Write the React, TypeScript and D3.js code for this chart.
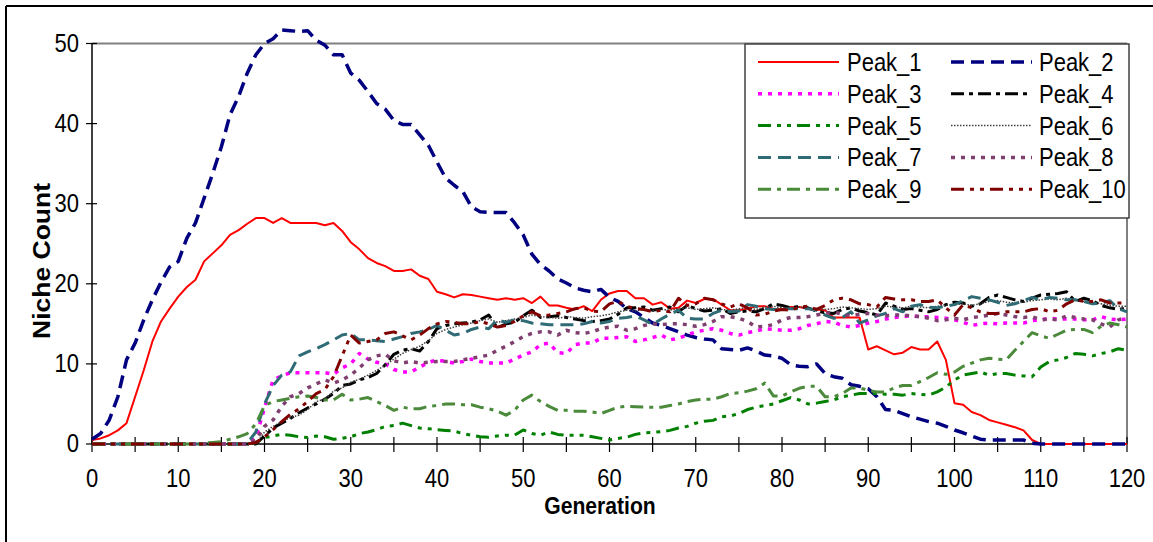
import React from "react";
import * as d3 from "d3";

// ---------------- DATA ----------------
const seriesNames = ["Peak_1","Peak_2","Peak_3","Peak_4","Peak_5","Peak_6","Peak_7","Peak_8","Peak_9","Peak_10"];

const peak1 = [0.5,0.7,1.1,1.7,2.6,5.9,9.2,12.8,15.3,16.9,
  18.4,19.6,20.5,22.8,23.8,24.8,26.1,26.7,27.5,28.2,
  28.2,27.6,28.2,27.6,27.6,27.6,27.6,27.3,27.6,26.6,
  25.2,24.3,23.2,22.6,22.2,21.6,21.6,21.8,21.0,20.6,
  19.0,18.7,18.3,18.7,18.6,18.4,18.2,18.0,18.2,18.0,
  18.2,17.6,18.4,17.3,17.3,17.0,16.8,17.2,16.6,18.0,
  18.8,19.1,19.1,18.2,18.2,17.4,17.7,16.9,17.0,17.9,
  17.6,18.1,18.1,17.4,16.7,16.7,16.9,17.2,17.2,16.9,
  16.8,17.1,17.1,16.9,16.8,16.7,15.8,15.8,15.8,15.8,
  11.8,12.2,11.7,11.2,11.4,12.1,11.8,11.8,12.8,10.5,
  5.1,4.9,4.0,3.6,3.0,2.7,2.4,2.1,1.7,0.5,
  0,0,0,0,0,0,0,0,0,0,0];

const peak2 = [0.6,1.3,3.0,5.9,10.5,12.6,15.5,18.0,20.2,22.1,
  22.8,25.7,27.6,30.7,33.8,37.1,41.1,43.4,46.3,48.6,
  50.0,50.6,51.7,51.6,51.5,51.6,50.4,49.8,48.6,48.6,
  46.3,45.4,44.0,42.5,41.8,40.4,39.9,39.9,38.6,37.3,
  35.2,33.2,32.3,31.5,29.6,29.0,28.9,28.9,28.9,27.6,
  26.1,23.7,22.4,21.6,20.6,20.1,19.5,19.2,19.0,19.3,
  18.3,17.8,16.9,16.5,15.8,15.1,14.8,14.4,14.0,13.6,
  13.3,13.1,13.0,11.9,11.8,11.7,12.0,11.6,11.1,11.0,
  10.7,9.9,9.7,9.65,10.0,8.8,8.4,8.2,7.4,7.2,
  6.9,5.9,4.3,4.2,3.8,3.4,3.1,2.8,2.6,2.2,
  1.75,1.4,1.0,0.6,0.5,0.5,0.5,0.5,0.5,0.1,
  0,0,0,0,0,0,0,0,0,0,0];

const peak3 = [0,0,0,0,0,0,0,0,0,0,
  0,0,0,0,0,0,0,0,0,0.8,
  4.5,8.0,8.5,8.9,8.9,8.9,8.9,8.9,8.7,9.5,
  10.0,11.3,10.6,10.2,10.0,9.3,9.0,9.0,9.6,10.2,
  10.5,10.3,10.1,10.3,10.6,10.3,10.1,10.1,10.1,10.6,
  11.1,11.5,12.4,12.6,11.4,11.3,12.4,12.6,12.6,13.2,
  13.2,13.3,13.4,12.8,13.0,13.3,13.6,13.0,13.2,13.6,
  14.0,14.2,14.4,14.2,13.8,13.6,13.9,14.1,14.4,14.3,
  14.2,14.2,14.4,14.8,15.0,15.3,15.2,14.8,14.6,14.8,
  15.1,15.3,15.6,15.8,15.9,16.0,15.9,15.9,15.8,15.7,
  15.5,15.2,14.8,15.0,15.1,15.0,15.1,15.1,15.1,15.4,
  15.5,15.7,15.6,15.6,15.6,15.5,15.5,15.9,15.6,15.5,15.6];

const peak4 = [0,0,0,0,0,0,0,0,0,0,
  0,0,0,0,0,0,0,0,0,0,
  1.0,2.0,2.6,3.2,3.9,4.5,5.0,5.6,6.3,7.3,
  7.5,8.0,8.3,8.8,9.9,11.2,11.7,11.9,11.6,12.8,
  14.4,14.8,15.0,15.1,15.2,15.5,16.1,14.5,15.0,15.2,
  16.0,16.7,15.8,15.9,16.0,15.8,15.6,15.4,15.3,15.4,
  15.6,16.2,17.0,17.0,17.1,16.7,16.9,17.1,16.5,17.3,
  16.9,16.6,16.7,16.9,16.3,16.5,16.6,16.5,16.9,17.5,
  17.3,17.0,17.2,17.0,16.6,16.4,16.3,16.8,17.0,16.6,
  16.4,16.1,17.6,17.2,16.8,16.9,16.7,16.5,16.8,17.4,
  17.7,17.6,17.2,17.5,18.3,18.6,18.3,18.0,17.8,18.2,
  18.6,18.7,18.8,19.0,17.8,18.2,17.9,17.3,17.0,16.8,17.0];

const peak5 = [0,0,0,0,0,0,0,0,0,0,
  0,0,0,0,0,0,0,0,0,0.2,
  0.8,1.0,1.2,1.1,0.9,0.8,1.0,0.9,0.6,0.7,
  0.9,1.3,1.5,1.8,2.2,2.3,2.6,2.3,2.0,1.9,
  1.8,1.7,1.6,1.3,1.1,0.9,0.85,1.0,1.1,1.1,
  1.75,1.3,1.1,1.5,1.2,1.1,1.1,1.1,0.9,0.7,
  0.5,0.7,0.85,1.2,1.4,1.45,1.55,1.7,2.0,2.2,
  2.6,2.85,2.95,3.4,3.5,3.8,4.3,4.6,4.8,5.0,
  5.4,5.8,5.5,5.0,5.1,5.3,5.5,5.9,6.1,6.3,
  6.3,6.3,6.2,6.2,6.1,6.3,6.2,6.1,6.5,7.1,
  8.0,8.6,8.8,9.0,8.6,8.8,8.8,8.6,8.5,8.4,
  9.6,10.3,10.5,10.8,11.3,11.2,11.0,11.3,11.5,11.9,11.7];

const peak6 = [0,0,0,0,0,0,0,0,0,0,
  0,0,0,0,0,0,0,0,0,0,
  1.5,2.2,2.8,3.3,3.6,4.3,5.3,5.6,6.6,7.0,
  7.7,8.1,8.6,9.2,9.8,10.6,11.3,11.8,12.2,12.9,
  13.8,14.3,14.6,14.9,15.1,15.4,15.6,15.2,15.4,15.6,
  15.8,16.1,15.9,15.8,15.7,15.9,15.8,15.7,15.9,16.0,
  16.2,16.5,16.7,16.6,16.8,16.6,16.8,16.7,16.9,17.0,
  16.8,16.9,17.0,16.8,16.7,16.9,17.0,16.8,17.1,17.2,
  17.0,16.9,17.1,17.0,16.9,16.8,16.9,17.1,17.0,16.9,
  16.8,16.9,17.2,17.1,17.0,17.2,17.1,17.0,17.2,17.3,
  17.4,17.5,17.3,17.5,17.8,17.9,17.7,17.6,17.7,17.9,
  18.0,18.1,18.0,18.2,17.9,17.8,17.7,17.5,17.3,17.2,17.2];

const peak7 = [0,0,0,0,0,0,0,0,0,0,
  0,0,0,0,0,0,0,0,0.1,1.5,
  5.0,7.3,8.6,9.0,11.0,11.5,11.9,12.4,13.0,13.6,
  13.8,13.0,13.0,12.9,12.8,13.1,13.4,13.8,14.0,14.3,
  14.8,14.2,13.6,13.8,14.3,14.6,14.4,15.5,15.2,15.5,
  15.4,15.1,15.0,14.9,14.9,14.9,14.9,15.0,15.3,15.1,
  15.3,15.7,15.8,16.0,15.5,14.9,15.6,16.2,16.7,15.7,
  15.6,15.6,16.3,16.7,16.5,16.6,17.4,17.2,16.9,16.8,
  16.8,16.9,16.9,16.9,16.7,16.1,15.7,15.8,16.5,15.1,
  15.5,16.0,16.3,16.9,16.5,17.2,17.4,17.1,17.0,17.2,
  17.4,17.9,18.4,18.2,18.0,17.7,17.3,17.5,17.9,18.3,
  18.0,18.3,18.2,18.0,18.0,17.8,17.5,17.6,17.9,16.9,16.5];

const peak8 = [0,0,0,0,0,0,0,0,0,0,
  0,0,0,0,0,0,0,0,0,0.5,
  2.2,3.0,4.7,5.9,6.3,7.0,7.5,8.0,7.6,8.0,
  8.6,9.5,10.5,11.0,11.2,10.4,10.1,10.3,10.1,10.2,
  10.3,10.3,10.3,10.5,10.7,10.9,11.1,11.7,12.2,12.8,
  13.4,13.8,14.0,14.0,13.6,14.2,13.9,13.8,14.0,14.4,
  14.6,14.7,14.2,14.4,14.8,15.0,14.9,15.0,15.0,14.9,
  14.7,14.9,15.3,15.9,15.9,15.7,15.3,14.6,14.7,14.9,
  15.5,15.8,15.8,15.9,16.1,16.3,16.5,16.2,16.0,16.2,
  16.3,16.1,16.0,16.1,16.1,16.0,15.9,15.7,15.4,15.5,
  15.7,15.5,15.8,15.9,16.1,16.3,16.1,15.9,15.8,15.9,
  15.5,15.6,15.5,16.0,15.8,15.6,15.5,15.0,14.6,15.5,15.8];

const peak9 = [0,0,0,0,0,0,0,0,0,0,
  0,0,0,0.1,0.2,0.3,0.6,0.9,1.3,2.5,
  4.8,5.3,5.5,5.7,5.9,6.0,5.8,5.5,5.5,6.2,
  5.5,5.6,5.8,5.3,4.8,4.2,4.6,4.4,4.4,4.7,
  4.8,5.0,5.0,4.9,4.9,4.6,4.4,4.1,3.6,4.2,
  5.5,6.1,5.3,4.7,4.2,4.2,4.1,4.1,4.0,3.8,
  4.2,4.6,4.7,4.66,4.6,4.6,4.6,4.8,5.0,5.3,
  5.5,5.6,5.6,5.9,6.3,6.4,6.6,6.9,7.6,6.0,
  6.0,6.5,6.95,7.2,7.2,5.9,5.9,6.3,7.0,7.0,
  6.7,6.5,6.5,7.0,7.3,7.3,7.8,8.3,8.9,8.7,
  9.0,9.7,10.1,10.5,10.7,10.6,10.5,11.7,12.8,13.9,
  13.5,13.2,13.7,14.2,14.3,14.3,13.9,14.7,15.1,14.9,14.6];

const peak10 = [0,0,0,0,0,0,0,0,0,0,
  0,0,0,0,0,0,0,0,0,0.2,
  0.9,1.8,2.8,3.7,4.4,5.3,6.3,6.8,8.4,11.0,
  13.6,12.6,12.8,13.0,13.8,14.0,13.5,13.0,13.6,14.4,
  15.0,15.3,15.2,15.0,15.0,15.3,15.0,14.6,14.8,15.3,
  16.0,16.5,16.0,16.1,16.3,16.5,16.9,17.0,16.6,16.5,
  17.5,17.8,17.2,16.9,16.8,16.5,16.7,16.5,18.2,17.3,
  17.5,18.2,18.0,17.5,17.1,17.5,17.0,16.1,16.2,16.6,
  16.8,16.7,17.1,17.2,16.8,17.3,18.0,18.2,18.0,17.5,
  17.4,17.1,18.3,18.1,18.0,18.0,17.8,17.8,18.0,17.0,
  16.1,17.4,17.0,16.5,16.3,16.3,16.5,16.5,16.5,16.8,
  16.9,16.5,16.7,17.5,18.0,17.8,17.8,18.0,17.6,17.6,17.6];

const seriesValues = [peak1, peak2, peak3, peak4, peak5, peak6, peak7, peak8, peak9, peak10];

const yTickValues = [0, 10, 20, 30, 40, 50];
const xTickLabelValues = [0, 10, 20, 30, 40, 50, 60, 70, 80, 90, 100, 110, 120];
const xTickMarkValues = [0,5,10,15,20,25,30,35,40,45,50,55,60,65,70,75,80,85,90,95,100,105,110,115,120];

// ---------------- STYLES ----------------
const seriesStyles = [
  { color: "#FF0000", width: 2, dash: "" },
  { color: "#000080", width: 3.5, dash: "13,7" },
  { color: "#FF00FF", width: 3.5, dash: "4,6" },
  { color: "#000000", width: 3, dash: "13,5,4,5" },
  { color: "#008000", width: 3, dash: "13,6,4,6,4,6" },
  { color: "#404040", width: 1.5, dash: "1.5,1.5" },
  { color: "#2E6B75", width: 3, dash: "13,7" },
  { color: "#7F3F6F", width: 3.5, dash: "4,6" },
  { color: "#4A8A3A", width: 3, dash: "13,6,4,6" },
  { color: "#800000", width: 3, dash: "13,6,4,6,4,6" },
];

const W = 1153;
const H = 542;
const FONT = "Arial, 'Liberation Sans', Helvetica, sans-serif";
const SX = 0.88;

const x = d3.scaleLinear().domain([0, 120]).range([92, 1127]);
const y = d3.scaleLinear().domain([0, 50]).range([444, 43.5]);

function Txt(props: { x: number; y: number; anchor?: string; size?: number; bold?: boolean; children: any }) {
  const { anchor = "start", size = 25, bold = false } = props;
  return (
    <text
      transform={`translate(${props.x},${props.y}) scale(${SX},1)`}
      textAnchor={anchor}
      fontFamily={FONT}
      fontSize={size}
      fontWeight={bold ? "bold" : "normal"}
      fill="#000"
    >
      {props.children}
    </text>
  );
}

export default function App() {
  const line = d3
    .line<number>()
    .x((_d, i) => x(i))
    .y((d) => y(d));

  const [x0, x1] = x.range();
  const [yb, yt] = y.range();

  // legend layout
  const legX = 745, legY = 44, legW = 384, legH = 174;
  const rowY0 = 62, rowStep = 31.8;
  const colLine = [[758, 839], [951, 1032]];
  const colText = [847, 1039];

  return (
    <svg
      width={W}
      height={H}
      viewBox={`0 0 ${W} ${H}`}
      style={{ position: "absolute", left: 0, top: 0, display: "block", background: "#fff" }}
    >
      <rect x={0} y={0} width={W} height={H} fill="#fff" />
      {/* outer chart frame */}
      <line x1={6} y1={6} x2={W} y2={6} stroke="#000" strokeWidth={2} />
      <line x1={6} y1={6} x2={6} y2={H} stroke="#000" strokeWidth={2} />

      {/* plot area border (gray) */}
      <line x1={x0} y1={yt} x2={x1} y2={yt} stroke="#808080" strokeWidth={2} />
      <line x1={x1} y1={yt} x2={x1} y2={yb} stroke="#808080" strokeWidth={2} />

      {/* axes */}
      <line x1={x0} y1={yt} x2={x0} y2={yb} stroke="#000" strokeWidth={1.5} />
      <line x1={x0} y1={yb} x2={x1} y2={yb} stroke="#000" strokeWidth={1.5} />

      {yTickValues.map((v) => (
        <g key={"yt" + v}>
          <line x1={86} x2={97} y1={y(v)} y2={y(v)} stroke="#000" strokeWidth={1.2} />
          <Txt x={79} y={y(v) + 8} anchor="end">{v}</Txt>
        </g>
      ))}
      {xTickMarkValues.map((v) => (
        <line key={"xm" + v} x1={x(v)} x2={x(v)} y1={437} y2={452} stroke="#000" strokeWidth={1.2} />
      ))}
      {xTickLabelValues.map((v) => (
        <Txt key={"xl" + v} x={x(v)} y={487} anchor="middle">{v}</Txt>
      ))}

      {/* axis titles */}
      <Txt x={600} y={514} anchor="middle" size={24} bold>Generation</Txt>
      <text
        transform={`translate(50,261) rotate(-90) scale(1,${SX})`}
        textAnchor="middle"
        fontFamily={FONT}
        fontSize={26.5}
        fontWeight="bold"
      >
        Niche Count
      </text>

      {/* series */}
      {seriesValues.map((vals, i) => (
        <path
          key={seriesNames[i]}
          d={line(vals) || ""}
          fill="none"
          stroke={seriesStyles[i].color}
          strokeWidth={seriesStyles[i].width}
          strokeDasharray={seriesStyles[i].dash || undefined}
          strokeLinejoin="round"
          strokeLinecap="butt"
        />
      ))}

      {/* legend */}
      <rect x={legX} y={legY} width={legW} height={legH} fill="#fff" stroke="#404040" strokeWidth={1.5} />
      {seriesNames.map((name, i) => {
        const col = i % 2;
        const row = Math.floor(i / 2);
        const cy = rowY0 + row * rowStep;
        const st = seriesStyles[i];
        return (
          <g key={"leg" + name}>
            <line
              x1={colLine[col][0]}
              x2={colLine[col][1]}
              y1={cy}
              y2={cy}
              stroke={st.color}
              strokeWidth={st.width}
              strokeDasharray={st.dash || undefined}
            />
            <Txt x={colText[col]} y={cy + 9}>{name}</Txt>
          </g>
        );
      })}
    </svg>
  );
}
